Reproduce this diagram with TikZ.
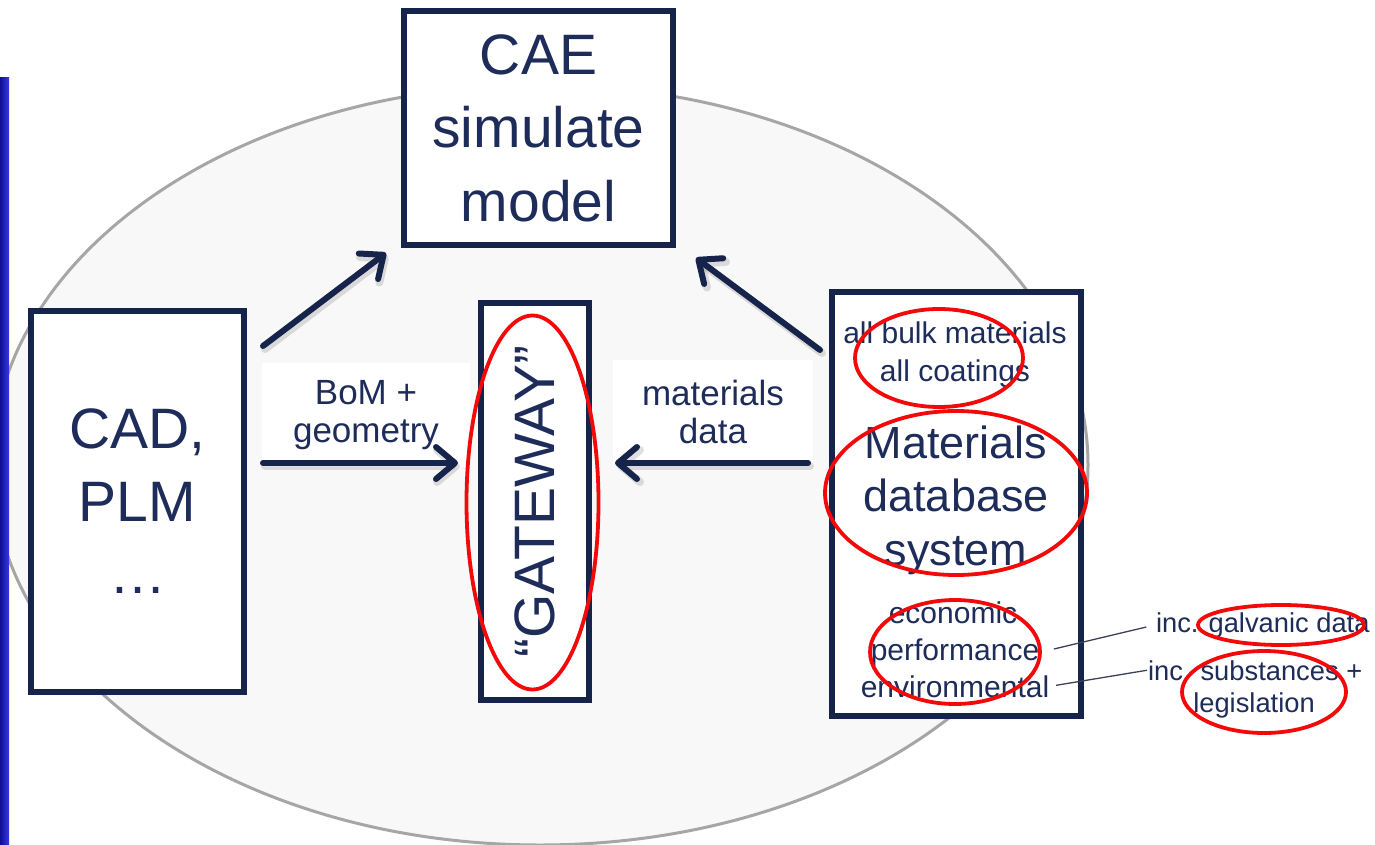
\documentclass[tikz,border=0pt]{standalone}
\usepackage{fontspec}
\setmainfont{Liberation Sans}
\usetikzlibrary{arrows.meta}
\definecolor{navy}{HTML}{16234B}
\definecolor{txtc}{HTML}{1E2C5A}
\definecolor{ringred}{HTML}{F20A0A}
\definecolor{ellfill}{HTML}{F8F8F8}
\definecolor{ellline}{HTML}{A6A6A6}
\definecolor{barA}{HTML}{0E0E90}
\definecolor{barB}{HTML}{3838E6}
\definecolor{thinc}{HTML}{3A4258}
\begin{document}
\begin{tikzpicture}[x=1pt,y=-1pt,
  box/.style={draw=navy, line width=6pt, fill=white, inner sep=0pt, outer sep=0pt},
  txt/.style={text=txtc, inner sep=1pt, outer sep=0pt},
  arr/.style={draw=navy, line width=6pt, line cap=round,
    -{Straight Barb[length=19pt,width=32pt,round]}},
  arrshadow/.style={draw=black, opacity=0.12, line width=8pt, line cap=round,
    -{Straight Barb[length=19pt,width=32pt,round]}},
  ring/.style={draw=ringred, line width=3.8pt},
  lbl/.style={fill=white, text=txtc, align=center, inner sep=0pt,
    font=\fontsize{35}{38}\selectfont},
  thinline/.style={draw=thinc, line width=1.3pt}
]
\useasboundingbox (0,0) rectangle (1375,845);
\clip (0,0) rectangle (1375,845);
\fill[white] (0,0) rectangle (1375,845);

% background ellipse
\draw[fill=ellfill, draw=ellline, line width=3pt] (540,465) ellipse [x radius=548, y radius=380];

% left blue bar
\shade[left color=barA, right color=barB] (0,78) rectangle (9,845);

% labels (white backgrounds)
\node[lbl, minimum width=208, minimum height=104] (bom) at (366,415) {BoM +\\geometry};
\node[lbl, minimum width=200, minimum height=104] (matdata) at (713,412) {materials\\data};

% boxes
\node[box, minimum width=269, minimum height=234, align=center, text=txtc,
  font=\fontsize{57}{73.5}\selectfont] (cae) at (538.5,128) {CAE\\simulate\\model};
\node[box, minimum width=213, minimum height=381, align=center, text=txtc,
  font=\fontsize{57}{72.5}\selectfont] (cad) at (137.5,501.5) {CAD,\\PLM\\…};
\node[box, rotate=90, minimum width=397, minimum height=108, text=txtc,
  font=\fontsize{57}{60}\selectfont] (gate) at (535,501.5) {“GATEWAY”};
\node[box, minimum width=249, minimum height=424] (mat) at (956.5,504) {};

% texts in materials box
\node[txt, anchor=base, font=\fontsize{30}{36}\selectfont] (bulk) at (955,343) {all bulk materials};
\node[txt, anchor=base, font=\fontsize{30}{36}\selectfont] (coat) at (955,381) {all coatings};
\node[txt, anchor=base, font=\fontsize{45}{54}\selectfont] (mat1) at (956,458) {Materials};
\node[txt, anchor=base, font=\fontsize{45}{54}\selectfont] (mat2) at (956,511.5) {database};
\node[txt, anchor=base, font=\fontsize{45}{54}\selectfont] (mat3) at (956,565) {system};
\node[txt, anchor=base, font=\fontsize{30}{36}\selectfont] (econ) at (953,623) {economic};
\node[txt, anchor=base, font=\fontsize{30}{36}\selectfont] (perf) at (955,660) {performance};
\node[txt, anchor=base, font=\fontsize{30}{36}\selectfont] (env) at (955,697) {environmental};

% right side texts
\node[txt, anchor=base west, font=\fontsize{27.3}{33}\selectfont] (galv) at (1155,632) {inc. galvanic data};
\node[txt, anchor=base west, font=\fontsize{27.3}{33}\selectfont] (subst) at (1147,680) {inc. substances +};
\node[txt, anchor=base, font=\fontsize{27.3}{33}\selectfont] (legis) at (1254,712) {legislation};

% thin connectors
\draw[thinline, shorten <=14pt, shorten >=9pt] (perf.east) -- (galv.west);
\draw[thinline, shorten <=6pt] (env.east) -- (subst.west);

% arrow shadows
\draw[arrshadow] ([shift={(21,38)}]cad.north east) -- ([shift={(-16,11)}]cae.south west);
\draw[arrshadow] ([shift={(21,-35.5)}]cad.east) -- ([shift={(-21,-35.5)}]gate.north);
\draw[arrshadow] ([shift={(-22,-38)}]mat.west) -- ([shift={(28,-35.5)}]gate.south);
\draw[arrshadow] ([shift={(-10,61)}]mat.north west) -- ([shift={(25,16)}]cae.south east);

% arrows
\draw[arr] ([shift={(19,35)}]cad.north east) -- ([shift={(-18,8)}]cae.south west);
\draw[arr] ([shift={(19,-38.5)}]cad.east) -- ([shift={(-23,-38.5)}]gate.north);
\draw[arr] ([shift={(-24,-41)}]mat.west) -- ([shift={(26,-38.5)}]gate.south);
\draw[arr] ([shift={(-12,58)}]mat.north west) -- ([shift={(23,13)}]cae.south east);

% red highlight rings
\draw[ring] (532.5,502.5) ellipse [x radius=66, y radius=187];
\draw[ring] (939,358) ellipse [x radius=84, y radius=49];
\draw[ring] (956,493) ellipse [x radius=131, y radius=82];
\draw[ring] (955,652) ellipse [x radius=85, y radius=52];
\draw[ring] (1281,625) ellipse [x radius=83, y radius=20];
\draw[ring] (1264,692) ellipse [x radius=82, y radius=41];
\end{tikzpicture}
\end{document}
